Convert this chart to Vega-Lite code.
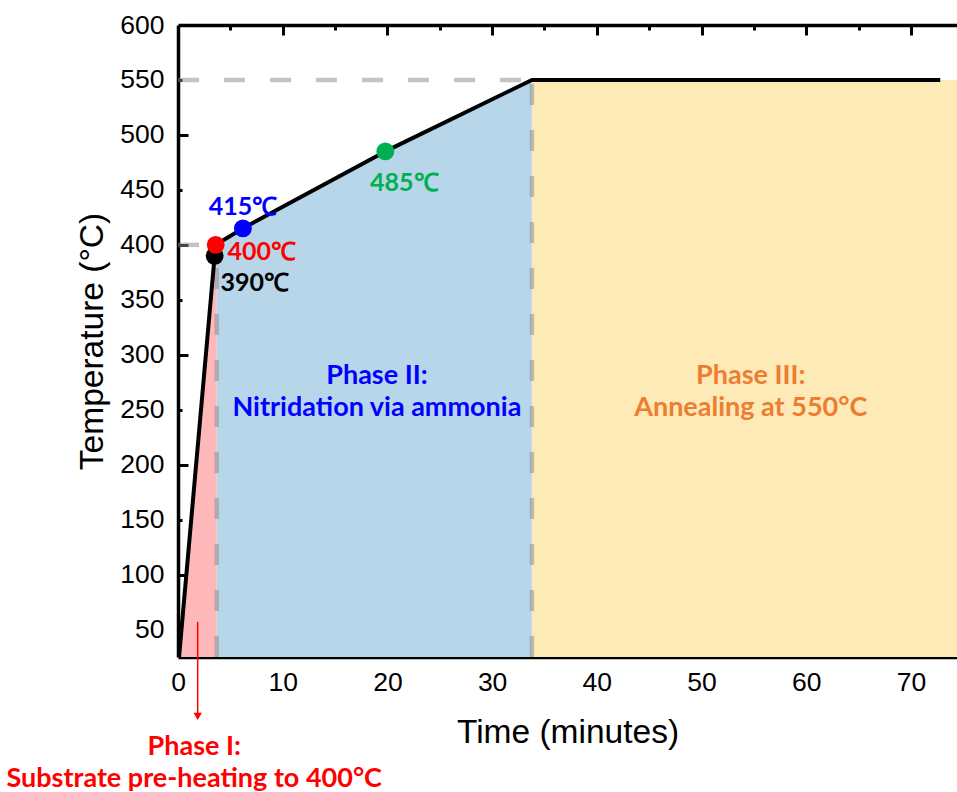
{
  "$schema": "https://vega.github.io/schema/vega-lite/v6.json",
  "width": 779,
  "height": 632,
  "autosize": {"type": "none"},
  "padding": {"left": 178, "top": 25, "right": 0, "bottom": 135},
  "background": "white",
  "config": {
    "view": {"stroke": null},
    "axis": {
      "grid": false,
      "zindex": 1,
      "labelFlush": false,
      "domainColor": "black",
      "domainWidth": 3.5,
      "tickColor": "black",
      "tickWidth": 3,
      "labelColor": "black",
      "labelFont": "Liberation Sans",
      "labelFontSize": 26.5,
      "titleColor": "black",
      "titleFont": "Liberation Sans",
      "titleFontSize": 33.5,
      "titleFontWeight": "normal"
    }
  },
  "datasets": {
    "profile": [
      {"time": 0.1, "temp": 25},
      {"time": 3.5, "temp": 390},
      {"time": 3.6, "temp": 400},
      {"time": 6.2, "temp": 415},
      {"time": 19.8, "temp": 485},
      {"time": 33.8, "temp": 550},
      {"time": 72.8, "temp": 550}
    ],
    "phases": [
      {"phase": "I", "time": 0.1, "temp": 25},
      {"phase": "I", "time": 3.5, "temp": 390},
      {"phase": "I", "time": 3.6, "temp": 400},
      {"phase": "I", "time": 3.7, "temp": 400.5},
      {"phase": "II", "time": 3.7, "temp": 400.5},
      {"phase": "II", "time": 6.2, "temp": 415},
      {"phase": "II", "time": 19.8, "temp": 485},
      {"phase": "II", "time": 33.8, "temp": 550},
      {"phase": "III", "time": 33.8, "temp": 550},
      {"phase": "III", "time": 74.4, "temp": 550}
    ],
    "guides": [
      {"time": 0, "time2": 33.8, "temp": 550, "temp2": 550},
      {"time": 0, "time2": 3.6, "temp": 400, "temp2": 400},
      {"time": 3.7, "time2": 3.7, "temp": 25, "temp2": 380},
      {"time": 33.8, "time2": 33.8, "temp": 25, "temp2": 550}
    ],
    "points": [
      {"time": 3.5, "temp": 390, "label": "390℃"},
      {"time": 3.6, "temp": 400, "label": "400℃"},
      {"time": 6.2, "temp": 415, "label": "415℃"},
      {"time": 19.8, "temp": 485, "label": "485℃"}
    ],
    "notes": [
      {"phase": "Phase I", "text": "Phase I:\nSubstrate pre-heating to 400°C", "time": 1.55, "temp": -57},
      {"phase": "Phase II", "text": "Phase II:\nNitridation via ammonia", "time": 19.0, "temp": 281},
      {"phase": "Phase III", "text": "Phase III:\nAnnealing at 550°C", "time": 54.7, "temp": 281}
    ],
    "arrow": [
      {"time": 1.88, "top": 57, "bottom": -27}
    ],
    "arrowHead": [
      {"time": 1.88, "temp": -29}
    ]
  },
  "resolve": {
    "scale": {"color": "independent"},
    "axis": {"x": "independent", "y": "independent"}
  },
  "layer": [
    {
      "data": {"name": "phases"},
      "mark": {"type": "area", "opacity": 1},
      "encoding": {
        "x": {
          "field": "time", "type": "quantitative",
          "scale": {"domain": [0, 74.4], "nice": false, "zero": false},
          "axis": {
            "orient": "bottom",
            "values": [0, 10, 20, 30, 40, 50, 60, 70],
            "ticks": false,
            "labelPadding": 12,
            "title": "Time (minutes)",
            "titlePadding": 21
          }
        },
        "y": {
          "field": "temp", "type": "quantitative", "stack": null,
          "scale": {"domain": [25, 600], "nice": false, "zero": false},
          "axis": {
            "orient": "left",
            "values": [50, 100, 150, 200, 250, 300, 350, 400, 450, 500, 550, 600],
            "ticks": false,
            "labelPadding": 14,
            "title": "Temperature (°C)",
            "titlePadding": 10
          }
        },
        "y2": {"datum": 25},
        "color": {
          "field": "phase", "type": "nominal",
          "scale": {"domain": ["I", "II", "III"], "range": ["#FFB8BA", "#B8D6EA", "#FDEAB6"]},
          "legend": null
        }
      }
    },
    {
      "data": {"name": "guides"},
      "mark": {"type": "rule", "color": "#8a8a8a", "opacity": 0.5, "strokeWidth": 4.5, "strokeDash": [21, 25]},
      "encoding": {
        "x": {
          "field": "time", "type": "quantitative",
          "scale": {"domain": [0, 74.4], "nice": false, "zero": false},
          "axis": {
            "orient": "bottom",
            "values": [10, 20, 30, 40, 50, 60, 70],
            "offset": -10, "tickSize": 10, "labels": false, "domain": false, "title": null
          }
        },
        "x2": {"field": "time2"},
        "y": {
          "field": "temp", "type": "quantitative",
          "scale": {"domain": [25, 600], "nice": false, "zero": false},
          "axis": {
            "orient": "left",
            "values": [100, 200, 300, 400, 500],
            "offset": -10, "tickSize": 10, "labels": false, "domain": false, "title": null
          }
        },
        "y2": {"field": "temp2"}
      }
    },
    {
      "data": {"name": "profile"},
      "mark": {"type": "line", "color": "black", "strokeWidth": 4, "strokeJoin": "round"},
      "encoding": {
        "x": {
          "field": "time", "type": "quantitative",
          "scale": {"domain": [0, 74.4], "nice": false, "zero": false},
          "axis": {
            "orient": "bottom",
            "values": [5, 15, 25, 35, 45, 55, 65],
            "offset": -5, "tickSize": 5, "labels": false, "domain": false, "title": null
          }
        },
        "y": {
          "field": "temp", "type": "quantitative",
          "scale": {"domain": [25, 600], "nice": false, "zero": false},
          "axis": {
            "orient": "left",
            "values": [50, 150, 250, 350, 450, 550],
            "offset": -4, "tickSize": 4, "labels": false, "domain": false, "title": null
          }
        }
      }
    },
    {
      "data": {"name": "points"},
      "mark": {"type": "point", "shape": "circle", "filled": true, "opacity": 1, "size": 320},
      "encoding": {
        "x": {
          "field": "time", "type": "quantitative",
          "scale": {"domain": [0, 74.4], "nice": false, "zero": false},
          "axis": {
            "orient": "top",
            "ticks": false, "labels": false, "title": null
          }
        },
        "y": {
          "field": "temp", "type": "quantitative",
          "scale": {"domain": [25, 600], "nice": false, "zero": false},
          "axis": null
        },
        "color": {
          "field": "label", "type": "nominal",
          "scale": {"domain": ["390℃", "400℃", "415℃", "485℃"], "range": ["#000000", "#FF0000", "#0000FF", "#00B050"]},
          "legend": null
        }
      }
    },
    {
      "data": {"name": "points"},
      "transform": [{"filter": "datum.temp == 390"}],
      "mark": {"type": "text", "font": "Lato", "fontWeight": "bold", "fontSize": 25, "dx": 40, "dy": 27},
      "encoding": {
        "x": {
          "field": "time", "type": "quantitative",
          "scale": {"domain": [0, 74.4], "nice": false, "zero": false},
          "axis": {
            "orient": "top",
            "values": [10, 20, 30, 40, 50, 60, 70],
            "offset": -10, "tickSize": 10, "labels": false, "domain": false, "title": null
          }
        },
        "y": {"field": "temp", "type": "quantitative", "scale": {"domain": [25, 600], "nice": false, "zero": false}, "axis": null},
        "text": {"field": "label"},
        "color": {"field": "label", "type": "nominal", "scale": {"domain": ["390℃", "400℃", "415℃", "485℃"], "range": ["#000000", "#FF0000", "#0000FF", "#00B050"]}, "legend": null}
      }
    },
    {
      "data": {"name": "points"},
      "transform": [{"filter": "datum.temp == 400"}],
      "mark": {"type": "text", "font": "Lato", "fontWeight": "bold", "fontSize": 25, "dx": 46, "dy": 7},
      "encoding": {
        "x": {
          "field": "time", "type": "quantitative",
          "scale": {"domain": [0, 74.4], "nice": false, "zero": false},
          "axis": {
            "orient": "top",
            "values": [5, 15, 25, 35, 45, 55, 65],
            "offset": -5, "tickSize": 5, "labels": false, "domain": false, "title": null
          }
        },
        "y": {"field": "temp", "type": "quantitative", "scale": {"domain": [25, 600], "nice": false, "zero": false}, "axis": null},
        "text": {"field": "label"},
        "color": {"field": "label", "type": "nominal", "scale": {"domain": ["390℃", "400℃", "415℃", "485℃"], "range": ["#000000", "#FF0000", "#0000FF", "#00B050"]}, "legend": null}
      }
    },
    {
      "data": {"name": "points"},
      "transform": [{"filter": "datum.temp == 415"}],
      "mark": {"type": "text", "font": "Lato", "fontWeight": "bold", "fontSize": 25, "dx": 0, "dy": -21},
      "encoding": {
        "x": {"field": "time", "type": "quantitative", "scale": {"domain": [0, 74.4], "nice": false, "zero": false}, "axis": null},
        "y": {"field": "temp", "type": "quantitative", "scale": {"domain": [25, 600], "nice": false, "zero": false}, "axis": null},
        "text": {"field": "label"},
        "color": {"field": "label", "type": "nominal", "scale": {"domain": ["390℃", "400℃", "415℃", "485℃"], "range": ["#000000", "#FF0000", "#0000FF", "#00B050"]}, "legend": null}
      }
    },
    {
      "data": {"name": "points"},
      "transform": [{"filter": "datum.temp == 485"}],
      "mark": {"type": "text", "font": "Lato", "fontWeight": "bold", "fontSize": 25, "dx": 19, "dy": 32},
      "encoding": {
        "x": {"field": "time", "type": "quantitative", "scale": {"domain": [0, 74.4], "nice": false, "zero": false}, "axis": null},
        "y": {"field": "temp", "type": "quantitative", "scale": {"domain": [25, 600], "nice": false, "zero": false}, "axis": null},
        "text": {"field": "label"},
        "color": {"field": "label", "type": "nominal", "scale": {"domain": ["390℃", "400℃", "415℃", "485℃"], "range": ["#000000", "#FF0000", "#0000FF", "#00B050"]}, "legend": null}
      }
    },
    {
      "data": {"name": "arrow"},
      "mark": {"type": "rule", "color": "#FF0000", "strokeWidth": 1.5},
      "encoding": {
        "x": {"field": "time", "type": "quantitative", "scale": {"domain": [0, 74.4], "nice": false, "zero": false}, "axis": null},
        "y": {"field": "top", "type": "quantitative", "scale": {"domain": [25, 600], "nice": false, "zero": false}, "axis": null},
        "y2": {"field": "bottom"}
      }
    },
    {
      "data": {"name": "arrowHead"},
      "mark": {"type": "point", "shape": "triangle-down", "filled": true, "color": "#FF0000", "opacity": 1, "size": 70},
      "encoding": {
        "x": {"field": "time", "type": "quantitative", "scale": {"domain": [0, 74.4], "nice": false, "zero": false}, "axis": null},
        "y": {"field": "temp", "type": "quantitative", "scale": {"domain": [25, 600], "nice": false, "zero": false}, "axis": null}
      }
    },
    {
      "data": {"name": "notes"},
      "mark": {"type": "text", "font": "Lato", "fontWeight": "bold", "fontSize": 27, "lineBreak": "\n", "lineHeight": 32, "align": "center", "baseline": "middle"},
      "encoding": {
        "x": {"field": "time", "type": "quantitative", "scale": {"domain": [0, 74.4], "nice": false, "zero": false}, "axis": null},
        "y": {"field": "temp", "type": "quantitative", "scale": {"domain": [25, 600], "nice": false, "zero": false}, "axis": null},
        "text": {"field": "text"},
        "color": {
          "field": "phase", "type": "nominal",
          "scale": {"domain": ["Phase I", "Phase II", "Phase III"], "range": ["#FF0000", "#0000FF", "#ED7D31"]},
          "legend": null
        }
      }
    }
  ]
}
